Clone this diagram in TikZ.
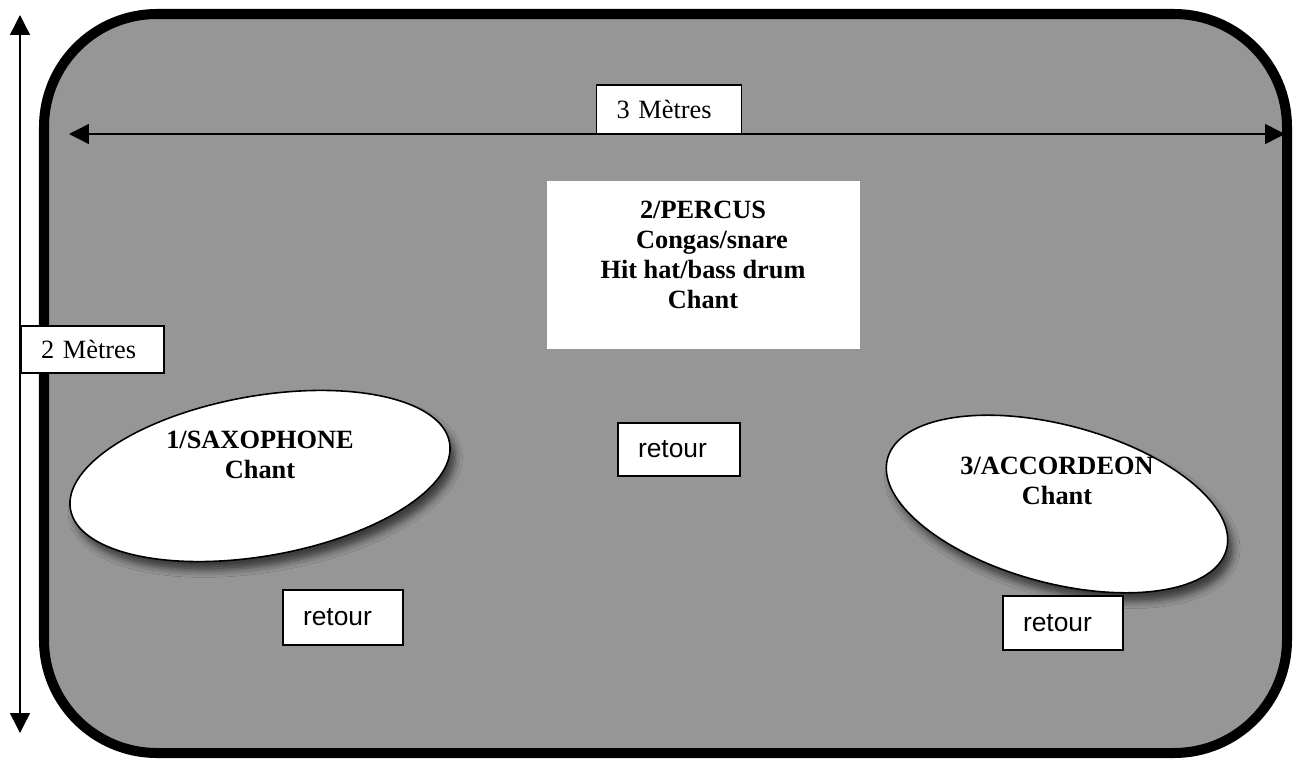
\documentclass[tikz,border=0pt]{standalone}
\usepackage{fontspec}
\setmainfont{Liberation Serif}
\newfontfamily\retourfont{Liberation Sans}
\usetikzlibrary{arrows.meta,shapes.geometric,shadows.blur}
\definecolor{stagegray}{RGB}{150,150,150}

\begin{document}
\begin{tikzpicture}[x=0.02cm, y=-0.02cm,
   txt/.style={font=\fontsize{15}{17}\selectfont},
   boldtxt/.style={font=\fontsize{15}{17}\selectfont\bfseries, align=center},
   dimarrow/.style={{Triangle[length=0.4cm,width=0.4cm]}-{Triangle[length=0.4cm,width=0.4cm]}, line width=0.85pt},
   labelbox/.style={txt, draw, fill=white, line width=0.8pt, inner xsep=0.4cm, inner ysep=0pt, align=left},
   retourbox/.style={labelbox, font=\retourfont\fontsize{15}{17}\selectfont, text width=1.6cm},
   zone/.style={ellipse, draw, fill=white, line width=0.9pt, inner sep=0pt,
     blur shadow={shadow xshift=3pt, shadow yshift=-5pt, shadow blur radius=4pt, shadow opacity=60}}]
   \useasboundingbox (0,0) rectangle (1301,760);
   % stage
   \draw[line width=5.7pt, fill=stagegray, rounded corners=2.26cm] (44,14) rectangle (1287,753);
   % dimensions
   \coordinate (wleft) at (69,134);
   \coordinate (wright) at (1285,134);
   \coordinate (htop) at (20,15);
   \coordinate (hbot) at (20,733);
   \draw[dimarrow] (wleft) -- (wright);
   \draw[dimarrow] (htop) -- (hbot);
   \node[labelbox, text width=2.1cm, minimum height=0.98cm] (width) at (669,109.5) {3 Mètres};
   \node[labelbox, text width=2.06cm, minimum height=0.94cm] (height) at (92.5,349.5) {2 Mètres};
   % musicians
   \node[fill=white, minimum width=6.26cm, minimum height=3.36cm] (percus) at (703.5,265) {};
   \node[boldtxt] (percuslabel) at (703,255) {2/PERCUS\\\hspace{0.36cm}Congas/snare\\Hit hat/bass drum\\Chant};
   \node[zone, rotate=10, minimum width=7.7cm, minimum height=3.2cm] (sax) at (260,476) {};
   \node[boldtxt] (saxlabel) at (260,455) {1/SAXOPHONE\\Chant};
   \node[zone, rotate=-15, minimum width=7.02cm, minimum height=3.16cm] (accordeon) at (1057,504) {};
   \node[boldtxt] (accordeonlabel) at (1057,481) {3/ACCORDEON\\Chant};
   % monitors
   \node[retourbox, text width=1.64cm, minimum height=1.06cm] (retourpercus) at (679,449.5) {retour};
   \node[retourbox, minimum height=1.1cm] (retoursax) at (343,617.5) {retour};
   \node[retourbox, minimum height=1.08cm] (retouraccordeon) at (1063,623) {retour};
\end{tikzpicture}
\end{document}
